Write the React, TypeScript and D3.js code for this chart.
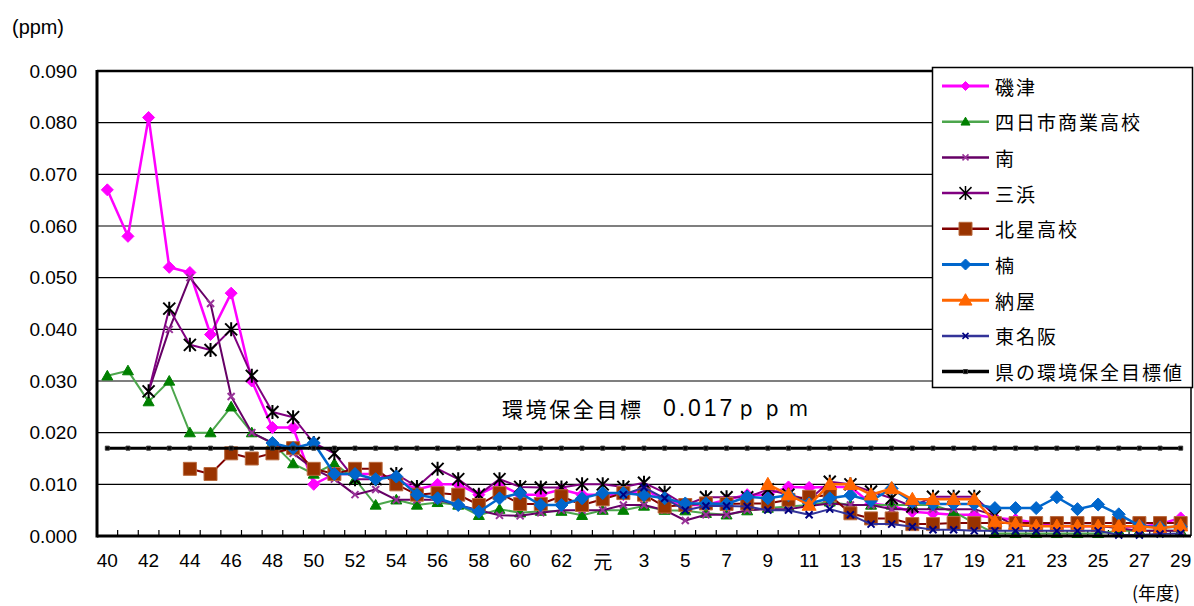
import React from "react";
import * as d3 from "d3";

const categories = ["40","41","42","43","44","45","46","47","48","49","50","51","52","53","54","55","56","57","58","59","60","61","62","63","元","2","3","4","5","6","7","8","9","10","11","12","13","14","15","16","17","18","19","20","21","22","23","24","25","26","27","28","29"];

const yTicks = [0, 0.01, 0.02, 0.03, 0.04, 0.05, 0.06, 0.07, 0.08, 0.09];

const _ = null;

const isozu = [
  0.067,0.058,0.081,0.052,0.051,0.039,0.047,0.030,0.021,0.021,
  0.010,0.012,0.012,0.012,0.011,0.009,0.010,0.010,0.008,0.010,
  0.008,0.008,0.009,0.008,0.008,0.008,0.009,0.007,0.006,0.006,
  0.007,0.008,0.008,0.0095,0.0094,0.0095,0.0095,0.0063,0.0058,0.0047,
  0.0044,0.0041,0.0041,0.0035,0.0032,0.0025,0.0019,0.0019,0.0019,0.0018,
  0.0018,0.0023,0.0035];

const shogyo = [
  0.031,0.032,0.026,0.030,0.020,0.020,0.025,0.020,0.018,0.014,
  0.012,0.014,0.011,0.006,0.007,0.006,0.0065,0.006,0.004,0.0052,
  0.0045,0.0048,0.0048,0.004,0.005,0.005,0.0058,0.005,0.0049,0.0044,
  0.0041,0.0049,0.0054,0.0057,0.006,0.0066,0.006,0.006,0.006,0.006,
  0.006,0.0047,0.0025,0.0005,0.0005,0.0005,0.0005,0.0005,0.0005,0.001,
  0.001,0.001,0.001];

const minami = [
  _,_,0.028,0.040,0.050,0.045,0.027,0.020,0.018,0.016,
  0.013,0.011,0.008,0.009,0.007,0.007,0.007,0.006,0.005,0.004,
  0.0039,0.0045,0.005,0.005,0.005,0.006,0.006,0.005,0.003,0.0041,
  0.0041,0.005,0.0052,0.0052,0.0058,0.0063,0.006,0.006,0.0052,0.0052,
  0.0052,0.0052,0.0052,0.004,0.002,0.002,0.002,0.002,0.002,0.0015,
  0.001,0.001,0.001];

const mihama = [
  _,_,0.028,0.044,0.037,0.036,0.040,0.031,0.024,0.023,
  0.018,0.016,0.011,0.011,0.012,0.0095,0.013,0.011,0.008,0.011,
  0.0095,0.0094,0.0094,0.010,0.010,0.0095,0.0103,0.0084,0.006,0.0075,
  0.0075,0.0075,0.009,0.008,0.007,0.0105,0.010,0.0086,0.0073,0.0057,
  0.0076,0.0076,0.0076,0.004,_,_,_,_,_,_,
  _,_,_];

const hokusei = [
  _,_,_,_,0.013,0.012,0.016,0.015,0.016,0.017,
  0.013,0.012,0.013,0.013,0.010,0.008,0.0083,0.008,0.006,0.0083,
  0.0062,0.0062,0.0077,0.006,0.0071,0.0083,0.008,0.0057,0.006,0.0063,
  0.0062,0.0063,0.0063,0.007,0.0076,0.0079,0.0044,0.0034,0.0034,0.0023,
  0.0023,0.0025,0.0025,0.0025,0.0025,0.0025,0.0025,0.0025,0.0025,0.0025,
  0.0025,0.0025,0.0025];

const kusunoki = [
  _,_,_,_,_,_,_,_,0.018,0.017,
  0.018,0.012,0.012,0.011,0.0115,0.008,0.0073,0.006,0.0047,0.0073,
  0.0083,0.006,0.006,0.0073,0.0083,0.0083,0.0079,0.0073,0.0063,0.0063,
  0.0062,0.0076,0.0073,0.0079,0.0063,0.0073,0.0079,0.0068,0.0092,0.0066,
  0.0062,0.0062,0.0062,0.0054,0.0054,0.0054,0.0075,0.0052,0.0061,0.0042,
  0.002,0.0017,0.0018];

const naya = [
  _,_,_,_,_,_,_,_,_,_,
  _,_,_,_,_,_,_,_,_,_,
  _,_,_,_,_,_,_,_,_,_,
  _,_,0.010,0.008,0.006,0.010,0.010,0.008,0.0092,0.0071,
  0.0071,0.0071,0.0071,0.0028,0.0023,0.0019,0.0019,0.0019,0.0019,0.0019,
  0.0019,0.0015,0.002];

const tomeihan = [
  _,_,_,_,_,_,_,_,_,_,
  _,_,_,_,_,_,_,_,_,_,
  _,_,_,_,_,0.008,0.0094,0.0073,0.005,0.0058,
  0.0058,0.0057,0.005,0.005,0.0041,0.0052,0.0041,0.0023,0.0023,0.0018,
  0.0012,0.0012,0.001,0.001,0.001,0.001,0.001,0.001,0.001,0.0002,
  0.0002,0.0004,0.0005];

const target = [
  0.017,0.017,0.017,0.017,0.017,0.017,0.017,0.017,0.017,0.017,
  0.017,0.017,0.017,0.017,0.017,0.017,0.017,0.017,0.017,0.017,
  0.017,0.017,0.017,0.017,0.017,0.017,0.017,0.017,0.017,0.017,
  0.017,0.017,0.017,0.017,0.017,0.017,0.017,0.017,0.017,0.017,
  0.017,0.017,0.017,0.017,0.017,0.017,0.017,0.017,0.017,0.017,
  0.017,0.017,0.017];

type Ser = {
  name: string; data: (number | null)[]; line: string; lw: number;
  marker: string; fill: string; stroke: string; ms: number; lms: number;
};

const series: Ser[] = [
  { name: "磯津", data: isozu, line: "#FF00FF", lw: 2.5, marker: "diamond", fill: "#FF00FF", stroke: "#FF00FF", ms: 6, lms: 4.5 },
  { name: "四日市商業高校", data: shogyo, line: "#4CA64C", lw: 2, marker: "triangle", fill: "#008000", stroke: "#008000", ms: 5.5, lms: 4.5 },
  { name: "南", data: minami, line: "#660066", lw: 2, marker: "x", fill: "none", stroke: "#993399", ms: 3.5, lms: 3 },
  { name: "三浜", data: mihama, line: "#800080", lw: 2, marker: "asterisk", fill: "none", stroke: "#000000", ms: 6, lms: 6 },
  { name: "北星高校", data: hokusei, line: "#800000", lw: 2, marker: "square", fill: "#993300", stroke: "#B8693D", ms: 6.5, lms: 6.5 },
  { name: "楠", data: kusunoki, line: "#0066CC", lw: 2.5, marker: "diamond", fill: "#0066CC", stroke: "#0066CC", ms: 6.5, lms: 5.5 },
  { name: "納屋", data: naya, line: "#FF6600", lw: 2.5, marker: "triangle", fill: "#FF6600", stroke: "#FF6600", ms: 7, lms: 6.5 },
  { name: "東名阪", data: tomeihan, line: "#333399", lw: 2, marker: "x", fill: "none", stroke: "#000080", ms: 3.5, lms: 3 },
  { name: "県の環境保全目標値", data: target, line: "#000000", lw: 3, marker: "dot", fill: "#000000", stroke: "#333333", ms: 2, lms: 2 },
];

function markerPath(kind: string, r: number): string {
  switch (kind) {
    case "diamond": return `M0,${-r}L${r},0L0,${r}L${-r},0Z`;
    case "triangle": return `M0,${-r}L${r},${r * 0.75}L${-r},${r * 0.75}Z`;
    case "square": return `M${-r},${-r}H${r}V${r}H${-r}Z`;
    case "x": return `M${-r},${-r}L${r},${r}M${-r},${r}L${r},${-r}`;
    case "asterisk": return `M${-r},${-r}L${r},${r}M${-r},${r}L${r},${-r}M0,${-r - 1}V${r + 1}`;
    case "dot": return `M${-r},${-r}H${r}V${r}H${-r}Z`;
  }
  return "";
}

const X0 = 97, X1 = 1191, Y0 = 536, Y1 = 71;
const TXT = "'Liberation Sans', Arial, sans-serif";
const JP = "'Noto Sans CJK JP', sans-serif";

export default function App() {
  const x = d3.scaleBand<string>().domain(categories).range([X0, X1]).padding(0);
  const bw = x.bandwidth();
  const cx = (i: number) => (x(categories[i]) as number) + bw / 2;
  const y = d3.scaleLinear().domain([0, 0.09]).range([Y0, Y1]);
  const fmt = d3.format(".3f");

  const lineGen = d3.line<number | null>()
    .defined((d) => d != null)
    .x((_d, i) => cx(i))
    .y((d) => y(d as number));

  const legendX = 932.5, legendY = 67.5, rowH = 35.7;

  return (
    <svg width={1194} height={606} style={{ position: "fixed", left: 0, top: 0, background: "#fff" }}>
      <rect x={0} y={0} width={1194} height={606} fill="#fff" />
      {yTicks.filter((t) => t > 0 && t < 0.09).map((t) => (
        <line key={t} x1={X0} x2={X1} y1={y(t)} y2={y(t)} stroke="#000" strokeWidth={1.2} />
      ))}
      <line x1={X0} x2={X1} y1={Y1} y2={Y1} stroke="#000" strokeWidth={2.5} />
      <line x1={X1} x2={X1} y1={Y1} y2={Y0} stroke="#000" strokeWidth={1.5} />
      {yTicks.map((t) => (
        <text key={t} x={77} y={y(t)} textAnchor="end" dominantBaseline="central" fontFamily={TXT} fontSize={19} fill="#000">{fmt(t)}</text>
      ))}
      {categories.map((c) => (
        <line key={c} x1={(x(c) as number)} x2={(x(c) as number)} y1={Y0} y2={Y0 - 6} stroke="#000" strokeWidth={1.2} />
      ))}
      {categories.map((c, i) => i % 2 === 0 ? (
        <text key={c} x={cx(i)} y={560} textAnchor="middle" dominantBaseline="central" fontFamily={c === "元" ? JP : TXT} fontSize={19} fill="#000">{c}</text>
      ) : null)}
      {series.map((s) => (
        <g key={s.name}>
          <path d={lineGen(s.data) || ""} fill="none" stroke={s.line} strokeWidth={s.lw} strokeLinejoin="round" />
          {s.data.map((v, i) => v == null ? null : (
            <path key={i} transform={`translate(${cx(i)},${y(v)})`} d={markerPath(s.marker, s.ms)}
              fill={s.fill} stroke={s.stroke} strokeWidth={s.marker === "x" || s.marker === "asterisk" ? 2 : 1} />
          ))}
        </g>
      ))}
      <line x1={X0} x2={X0} y1={Y1 - 1} y2={Y0 + 1.5} stroke="#000" strokeWidth={3} />
      <line x1={X0} x2={X1} y1={Y0} y2={Y0} stroke="#000" strokeWidth={3} />
      <text x={502} y={408} dominantBaseline="central" fontFamily={JP} fontSize={21} textLength={139} lengthAdjust="spacing" fill="#000">環境保全目標</text>
      <text x={663} y={408} dominantBaseline="central" fontFamily={TXT} fontSize={23} textLength={147} lengthAdjust="spacing" fill="#000">0.017ｐｐｍ</text>
      <text x={12} y={27} dominantBaseline="central" fontFamily={TXT} fontSize={20} textLength={52} lengthAdjust="spacingAndGlyphs" fill="#000">(ppm)</text>
      <text x={1132} y={592} dominantBaseline="central" fontFamily={JP} fontSize={18} fill="#000">(年度)</text>
      <rect x={legendX} y={legendY} width={260} height={320} fill="#fff" stroke="#000" strokeWidth={1.5} />
      {series.map((s, k) => {
        const ly = 86 + rowH * k;
        return (
          <g key={s.name}>
            <line x1={942} x2={989} y1={ly} y2={ly} stroke={s.line} strokeWidth={s.lw + 0.5} />
            <path transform={`translate(965.5,${ly})`} d={markerPath(s.marker, s.lms)} fill={s.fill} stroke={s.stroke}
              strokeWidth={s.marker === "x" || s.marker === "asterisk" ? 1.5 : 1} />
            <text x={995} y={ly} dominantBaseline="central" fontFamily={JP} fontSize={19} letterSpacing={2} fill="#000">{s.name}</text>
          </g>
        );
      })}
    </svg>
  );
}
